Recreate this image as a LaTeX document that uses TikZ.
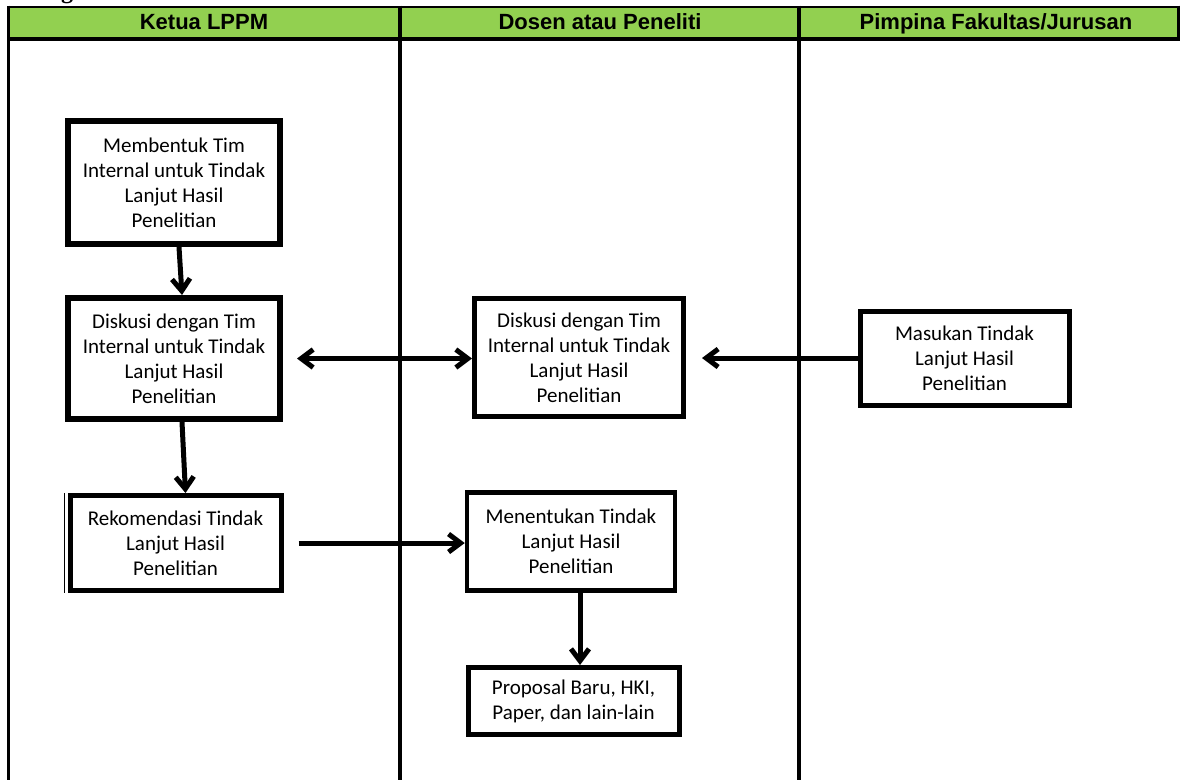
\documentclass[tikz,border=0pt]{standalone}
\usepackage{fontspec}
\setmainfont{Carlito}
\newfontfamily\hdrfont{Liberation Sans}
\newfontfamily\titlefont{Liberation Serif}
\usetikzlibrary{arrows.meta}
\definecolor{hdrgreen}{HTML}{92D050}
\tikzset{
  barb/.tip={Straight Barb[length=12pt,width=18pt]},
  box/.style={draw=black, line width=5pt, fill=white, align=center, inner sep=0pt,
    font=\fontsize{21}{25}\selectfont},
  thickbox/.style={box, line width=6pt},
  arr/.style={line width=5pt, -barb},
  darr/.style={line width=5pt, barb-barb},
  hdr/.style={font=\hdrfont\bfseries\fontsize{22}{26}\selectfont, inner sep=0pt, anchor=base},
  lane/.style={line width=4pt},
}
\begin{document}
\begin{tikzpicture}[x=1pt,y=-1pt]
\useasboundingbox (0,0) rectangle (1182,780);
% cut-off title fragment
\node[anchor=base, font=\titlefont\bfseries\fontsize{24}{28}\selectfont, inner sep=0pt] (ttl) at (67,-2) {g};
% header band and lane frame
\fill[hdrgreen] (8,7) rectangle (1179,37);
\draw[line width=2pt] (7,6.5) -- (1180,6.5);
\draw[line width=4pt] (7,39) -- (1180,39);
\draw[line width=3pt] (8.5,5.5) -- (8.5,780);
\draw[line width=3pt] (1178.5,5.5) -- (1178.5,41);
\draw[lane] (400,5.5) -- (400,780);
\draw[lane] (799,5.5) -- (799,780);
\node[hdr] (h1) at (204,29.5) {Ketua LPPM};
\node[hdr] (h2) at (600,29.5) {Dosen atau Peneliti};
\node[hdr] (h3) at (996,29.5) {Pimpina Fakultas/Jurusan};
% boxes
\node[thickbox, minimum width=212pt, minimum height=123pt] (b1) at (174,182.5)
  {Membentuk Tim\\Internal untuk Tindak\\Lanjut Hasil\\Penelitian};
\node[thickbox, minimum width=212pt, minimum height=121pt] (b2) at (174,358.5)
  {Diskusi dengan Tim\\Internal untuk Tindak\\Lanjut Hasil\\Penelitian};
\node[box, minimum width=211pt, minimum height=95pt] (b3) at (175.5,543)
  {Rekomendasi Tindak\\Lanjut Hasil\\Penelitian};
\draw[line width=1.2pt] ([xshift=-3pt]b3.north west) -- ([xshift=-3pt]b3.south west);
\node[box, minimum width=209pt, minimum height=118pt] (d2) at (579,357.5)
  {Diskusi dengan Tim\\Internal untuk Tindak\\Lanjut Hasil\\Penelitian};
\node[box, minimum width=209pt, minimum height=94pt] (m) at (964.5,358)
  {Masukan Tindak\\Lanjut Hasil\\Penelitian};
\node[box, line width=4.5pt, minimum width=208pt, minimum height=98pt] (t) at (571,541.5)
  {Menentukan Tindak\\Lanjut Hasil\\Penelitian};
\node[box, minimum width=211pt, minimum height=67pt] (p) at (573.5,701)
  {Proposal Baru, HKI,\\Paper, dan lain-lain};
% connectors
\draw[arr] ([xshift=5pt]b1.south) -- ([xshift=8pt]b2.north);
\draw[arr] ([xshift=8pt]b2.south) -- ([xshift=10pt]b3.north);
\draw[darr, shorten <=14pt] (b2.east) -- (b2.east -| d2.west);
\draw[arr, shorten >=16pt] (m.west) -- (m.west -| d2.east);
\draw[arr, shorten <=15pt] (b3.east) -- (b3.east -| t.west);
\draw[arr] ([xshift=9pt]t.south) -- ([xshift=9pt]t.south |- p.north);
\end{tikzpicture}
\end{document}
